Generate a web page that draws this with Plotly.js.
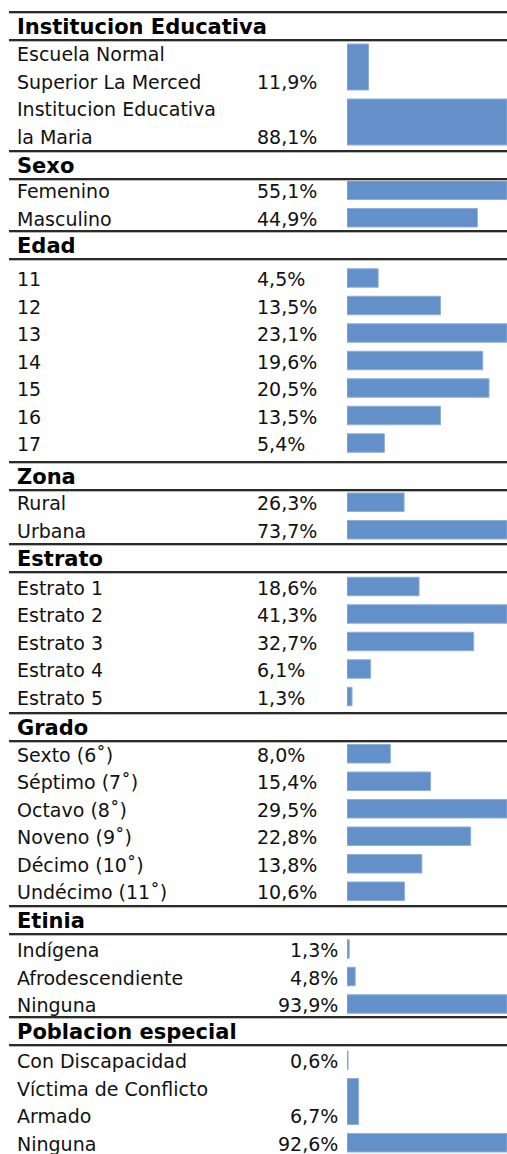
<!DOCTYPE html>
<html>
<head>
<meta charset="utf-8">
<script src="https://cdn.plot.ly/plotly-3.0.1.min.js"></script>
<style>
html,body{margin:0;padding:0;background:#fff;}
#chart{width:507px;height:1154px;}
</style>
</head>
<body>
<div id="chart"></div>
<script>
// ---- DATA ----
const sectionTitles = ["Institucion Educativa","Sexo","Edad","Zona","Estrato","Grado","Etinia","Poblacion especial"];

const instLabels = ["Escuela Normal<br>Superior La Merced","Institucion Educativa<br>la Maria"];
const instValues = [11.9, 88.1];
const instText = ["11,9%","88,1%"];

const sexoLabels = ["Femenino","Masculino"];
const sexoValues = [55.1, 44.9];
const sexoText = ["55,1%","44,9%"];

const edadLabels = ["11","12","13","14","15","16","17"];
const edadValues = [4.5, 13.5, 23.1, 19.6, 20.5, 13.5, 5.4];
const edadText = ["4,5%","13,5%","23,1%","19,6%","20,5%","13,5%","5,4%"];

const zonaLabels = ["Rural","Urbana"];
const zonaValues = [26.3, 73.7];
const zonaText = ["26,3%","73,7%"];

const estratoLabels = ["Estrato 1","Estrato 2","Estrato 3","Estrato 4","Estrato 5"];
const estratoValues = [18.6, 41.3, 32.7, 6.1, 1.3];
const estratoText = ["18,6%","41,3%","32,7%","6,1%","1,3%"];

const gradoLabels = ["Sexto (6˚)","Séptimo (7˚)","Octavo (8˚)","Noveno (9˚)","Décimo (10˚)","Undécimo (11˚)"];
const gradoValues = [8.0, 15.4, 29.5, 22.8, 13.8, 10.6];
const gradoText = ["8,0%","15,4%","29,5%","22,8%","13,8%","10,6%"];

const etniaLabels = ["Indígena","Afrodescendiente","Ninguna"];
const etniaValues = [1.3, 4.8, 93.9];
const etniaText = ["1,3%","4,8%","93,9%"];

const poblLabels = ["Con Discapacidad","Víctima de Conflicto<br>Armado","Ninguna"];
const poblValues = [0.6, 6.7, 92.6];
const poblText = ["0,6%","6,7%","92,6%"];

// ---- LAYOUT PARAMETERS ----
const W = 507, H = 1154;
const sectionTops = [12, 151, 231, 462, 544, 713, 906, 1017];
const itemShift = [0, 0, 1, 0, 0, 0, 2, 3];
const headerH = 28;
const pitch = 27.5;
const pctAlign = ["left","left","left","left","left","left","right","right"];
const barColor = "#6390C8";
const labelFont = {family: "DejaVu Sans, Verdana, sans-serif", size: 19, color: "#111"};
const headFont = {family: "DejaVu Sans, Verdana, sans-serif", size: 21, color: "#000"};

const sections = [
  [instLabels, instValues, instText],
  [sexoLabels, sexoValues, sexoText],
  [edadLabels, edadValues, edadText],
  [zonaLabels, zonaValues, zonaText],
  [estratoLabels, estratoValues, estratoText],
  [gradoLabels, gradoValues, gradoText],
  [etniaLabels, etniaValues, etniaText],
  [poblLabels, poblValues, poblText]
];

const traces = [];
const annotations = [];
const shapes = [];
const layout = {
  width: W, height: H,
  margin: {l: 0, r: 0, t: 0, b: 0},
  paper_bgcolor: "#fff", plot_bgcolor: "#fff",
  showlegend: false,
  bargap: 0,
  yaxis: {range: [H, 0], visible: false, fixedrange: true},
  annotations: annotations,
  shapes: shapes
};

function hline(y) {
  shapes.push({type: "line", xref: "paper", yref: "y", x0: 9/W, x1: 1, y0: y + 1.5, y1: y + 1.5,
               line: {color: "#b8b8b8", width: 1}});
  shapes.push({type: "line", xref: "paper", yref: "y", x0: 9/W, x1: 1, y0: y, y1: y,
               line: {color: "#2a2a2a", width: 2}});
}

sections.forEach((sec, s) => {
  const [labels, values, texts] = sec;
  const top = sectionTops[s];
  const bottom = s < sectionTops.length - 1 ? sectionTops[s + 1] : H;
  hline(top);
  hline(top + headerH);
  annotations.push({xref: "paper", yref: "y", x: 15/W, y: top + headerH/2 + 1, xanchor: "left", yanchor: "middle",
                    text: "<b>" + sectionTitles[s] + "</b>", showarrow: false, font: headFont});
  const nLines = labels.map(l => l.split("<br>").length);
  const total = nLines.reduce((a, b) => a + b, 0);
  const band = bottom - (top + headerH);
  let y = top + headerH + (band - total * pitch) / 2 + itemShift[s];
  const ys = [], widths = [];
  labels.forEach((lab, i) => {
    const parts = lab.split("<br>");
    parts.forEach((p, k) => {
      annotations.push({xref: "paper", yref: "y", x: 15/W, y: y + pitch * (k + 0.5), xanchor: "left", yanchor: "middle",
                        text: p, showarrow: false, font: labelFont});
    });
    const lastY = y + pitch * (parts.length - 0.5);
    annotations.push({xref: "paper", yref: "y",
                      x: pctAlign[s] === "left" ? 255/W : 340/W, y: lastY,
                      xanchor: pctAlign[s], yanchor: "middle",
                      text: texts[i], showarrow: false, font: labelFont});
    ys.push(y + pitch * parts.length / 2 - 1);
    widths.push(pitch * parts.length - 9);
    y += pitch * parts.length;
  });
  const axName = s === 0 ? "xaxis" : "xaxis" + (s + 1);
  const axRef = s === 0 ? "x" : "x" + (s + 1);
  layout[axName] = {domain: [347/W, 1], range: [0, Math.max(...values)], visible: false, fixedrange: true, anchor: "y"};
  if (s > 0) layout[axName].overlaying = "x";
  traces.push({type: "bar", orientation: "h", x: values, y: ys, width: widths,
               xaxis: axRef, yaxis: "y",
               marker: {color: barColor, line: {color: "#8fb0d8", width: 1}},
               hoverinfo: "skip"});
});

Plotly.newPlot("chart", traces, layout, {staticPlot: true, displayModeBar: false});
</script>
</body>
</html>
